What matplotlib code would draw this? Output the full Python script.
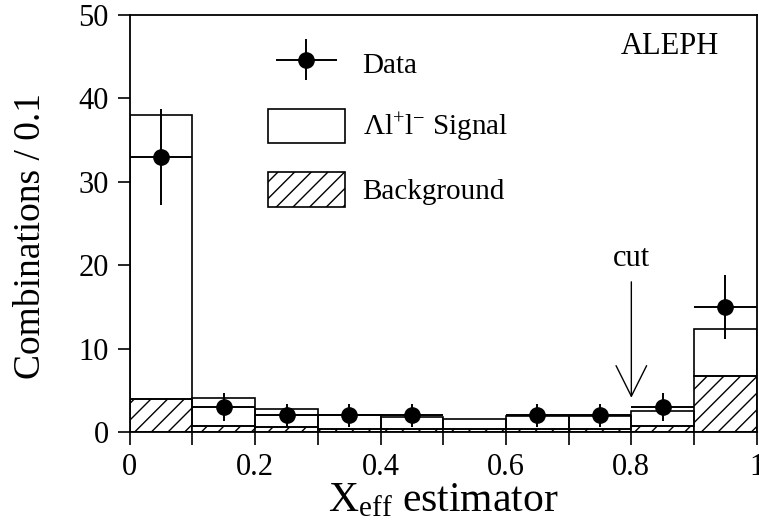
import numpy as np
import matplotlib
matplotlib.use("Agg")
import matplotlib.pyplot as plt
from matplotlib.patches import Patch
from matplotlib.container import ErrorbarContainer
from matplotlib.legend_handler import HandlerErrorbar

plt.rcParams["font.family"] = ["Liberation Serif", "DejaVu Serif"]
plt.rcParams["mathtext.fontset"] = "custom"
plt.rcParams["mathtext.rm"] = "Liberation Serif"
plt.rcParams["hatch.linewidth"] = 1.0

# X_eff bins (width 0.1)
bin_edges = [0.0, 0.1, 0.2, 0.3, 0.4, 0.5, 0.6, 0.7, 0.8, 0.9]
background = [4.0, 0.7, 0.6, 0.3, 0.3, 0.3, 0.3, 0.3, 0.7, 6.7]
signal = [34.0, 3.4, 2.2, 1.7, 1.5, 1.3, 1.6, 1.6, 1.8, 5.6]
data = [33, 3, 2, 2, 2, 0, 2, 2, 3, 15]
bin_width = 0.1
cut_value = 0.8

fig = plt.figure(figsize=(7.59, 5.32), dpi=100)
ax = fig.add_axes([0.171, 0.188, 0.826, 0.784])

# stacked histogram: hatched background, open signal on top
ax.bar(bin_edges, background, width=bin_width, align="edge",
       facecolor="white", edgecolor="black", hatch="//", linewidth=1.2)
ax.bar(bin_edges, signal, width=bin_width, bottom=background, align="edge",
       facecolor="none", edgecolor="black", linewidth=1.2)

# data points with Poisson errors, skip empty bins
centers = np.array(bin_edges) + bin_width / 2
counts = np.array(data, dtype=float)
mask = counts > 0
eb = ax.errorbar(centers[mask], counts[mask], yerr=np.sqrt(counts[mask]),
                 xerr=bin_width / 2, fmt="o", color="black", ms=11,
                 elinewidth=1.4, capsize=0)

# selection cut
ax.annotate("", xy=(cut_value, 4.1), xytext=(cut_value, 18.0),
            arrowprops=dict(arrowstyle="->,head_length=1.0,head_width=0.5",
                            color="black", lw=1.0, mutation_scale=22,
                            shrinkA=0, shrinkB=0))
ax.text(cut_value, 19.0, "cut", ha="center", va="bottom", fontsize=22)

ax.text(0.94, 0.925, "ALEPH", transform=ax.transAxes, ha="right",
        va="center", fontsize=22)

handles = [eb,
           Patch(facecolor="white", edgecolor="black", linewidth=1.2),
           Patch(facecolor="white", edgecolor="black", hatch="//", linewidth=1.2)]
labels = ["Data", r"$\mathrm{\Lambda l^{+}l^{-}}$ Signal", "Background"]
ax.legend(handles, labels, loc="upper left", bbox_to_anchor=(0.22, 0.925),
          frameon=False, fontsize=21, handlelength=2.65, handleheight=1.45,
          labelspacing=0.95, handletextpad=0.6, borderpad=0, borderaxespad=0,
          handler_map={ErrorbarContainer: HandlerErrorbar(xerr_size=1.05,
                                                          yerr_size=0.7)})

ax.set_xlim(0, 1)
ax.set_ylim(0, 50)
ax.set_xticks([0, 0.2, 0.4, 0.6, 0.8, 1.0])
ax.set_xticklabels(["0", "0.2", "0.4", "0.6", "0.8", "1"])
ax.set_xticks(np.arange(0.1, 1.0, 0.2), minor=True)
ax.set_yticks([0, 10, 20, 30, 40, 50])
ax.tick_params(axis="both", which="both", direction="out", length=9,
               width=1.2, labelsize=22, pad=6)
for spine in ax.spines.values():
    spine.set_linewidth(1.3)

ax.set_xlabel(r"$\mathrm{X_{eff}}$ estimator", fontsize=30, labelpad=0)
ax.set_ylabel("Combinations / 0.1", fontsize=27)
ax.yaxis.set_label_coords(-0.13, 0.47)

fig.savefig("out.png", dpi=100)
